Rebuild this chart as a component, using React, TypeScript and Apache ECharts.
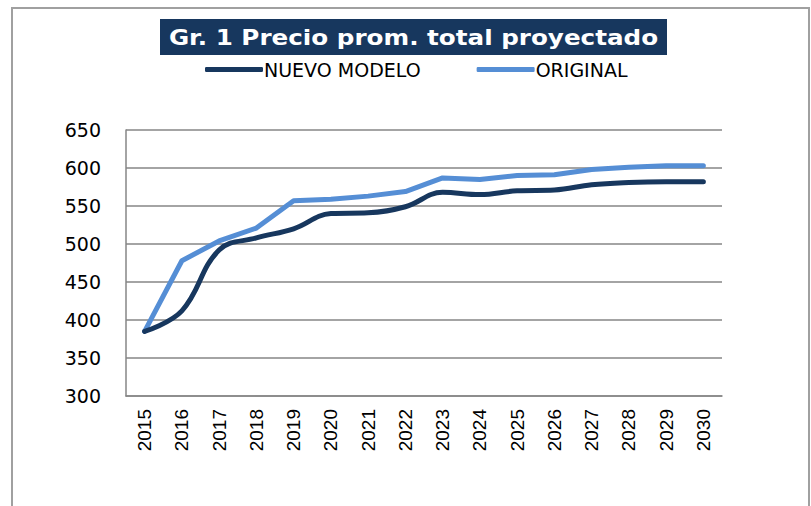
import React, { useEffect, useRef } from "react";
import * as echarts from "echarts";

const years = ["2015","2016","2017","2018","2019","2020","2021","2022","2023","2024","2025","2026","2027","2028","2029","2030"];
const nuevoModelo = [385, 412, 492, 508, 520, 540, 541, 549, 568, 565, 570, 571, 578, 581, 582, 582];
const original = [385, 478, 504, 521, 557, 559, 563, 569, 587, 585, 590, 591, 598, 601, 603, 603];
const yMin = 300;
const yMax = 650;
const yStep = 50;
const titleText = "Gr. 1 Precio prom. total proyectado";

const DARK = "#17375E";
const LIGHT = "#558ED5";
const GRID = "#868686";

export default function App() {
  const ref = useRef<HTMLDivElement>(null);
  useEffect(() => {
    if (!ref.current) return;
    const chart = echarts.init(ref.current, null, { renderer: "svg" });
    chart.setOption({
      animation: false,
      backgroundColor: "#ffffff",
      grid: { left: 126, right: 89, top: 130, bottom: 110, containLabel: false },
      legend: {
        data: ["NUEVO MODELO", "ORIGINAL"],
        left: 205,
        top: 60,
        padding: 0,
        itemGap: 56,
        itemWidth: 58,
        itemHeight: 5,
        icon: "roundRect",
        textStyle: { fontFamily: "DejaVu Sans", fontSize: 19, color: "#000", padding: [0, 0, 0, -4] },
      },
      graphic: [
        {
          type: "rect",
          shape: { x: 12, y: 8, width: 797, height: 520 },
          style: { fill: "none", stroke: "#a0a0a0", lineWidth: 2 },
          silent: true,
        },
        {
          type: "rect",
          shape: { x: 160, y: 19, width: 507, height: 36 },
          style: { fill: DARK },
          silent: true,
        },
        {
          type: "text",
          x: 413.5,
          y: 37,
          scaleX: 1.12,
          style: {
            text: titleText,
            fill: "#ffffff",
            font: "bold 22px 'DejaVu Sans'",
            align: "center",
            verticalAlign: "middle",
          },
          silent: true,
        },
      ],
      xAxis: {
        type: "category",
        data: years,
        boundaryGap: true,
        axisTick: { show: false },
        axisLine: { lineStyle: { color: GRID, width: 1.5 } },
        axisLabel: {
          rotate: 90,
          margin: 13,
          fontFamily: "Liberation Sans",
          fontSize: 19,
          color: "#000",
        },
      },
      yAxis: {
        type: "value",
        min: yMin,
        max: yMax,
        interval: yStep,
        axisLine: { show: true, lineStyle: { color: GRID, width: 1.5 } },
        axisTick: { show: false },
        splitLine: { lineStyle: { color: GRID, width: 1.5 } },
        axisLabel: {
          margin: 25,
          fontFamily: "DejaVu Sans",
          fontSize: 19,
          color: "#000",
        },
      },
      series: [
        {
          name: "ORIGINAL",
          type: "line",
          data: original,
          smooth: false,
          showSymbol: false,
          z: 2,
          lineStyle: { color: LIGHT, width: 5, cap: "round", join: "round" },
          itemStyle: { color: LIGHT },
        },
        {
          name: "NUEVO MODELO",
          type: "line",
          data: nuevoModelo,
          smooth: 0.4,
          showSymbol: false,
          z: 3,
          lineStyle: { color: DARK, width: 5, cap: "round", join: "round" },
          itemStyle: { color: DARK },
        },
      ],
    });
    return () => chart.dispose();
  }, []);
  return (
    <div
      ref={ref}
      style={{ position: "fixed", left: 0, top: 0, width: 811, height: 506 }}
    />
  );
}
